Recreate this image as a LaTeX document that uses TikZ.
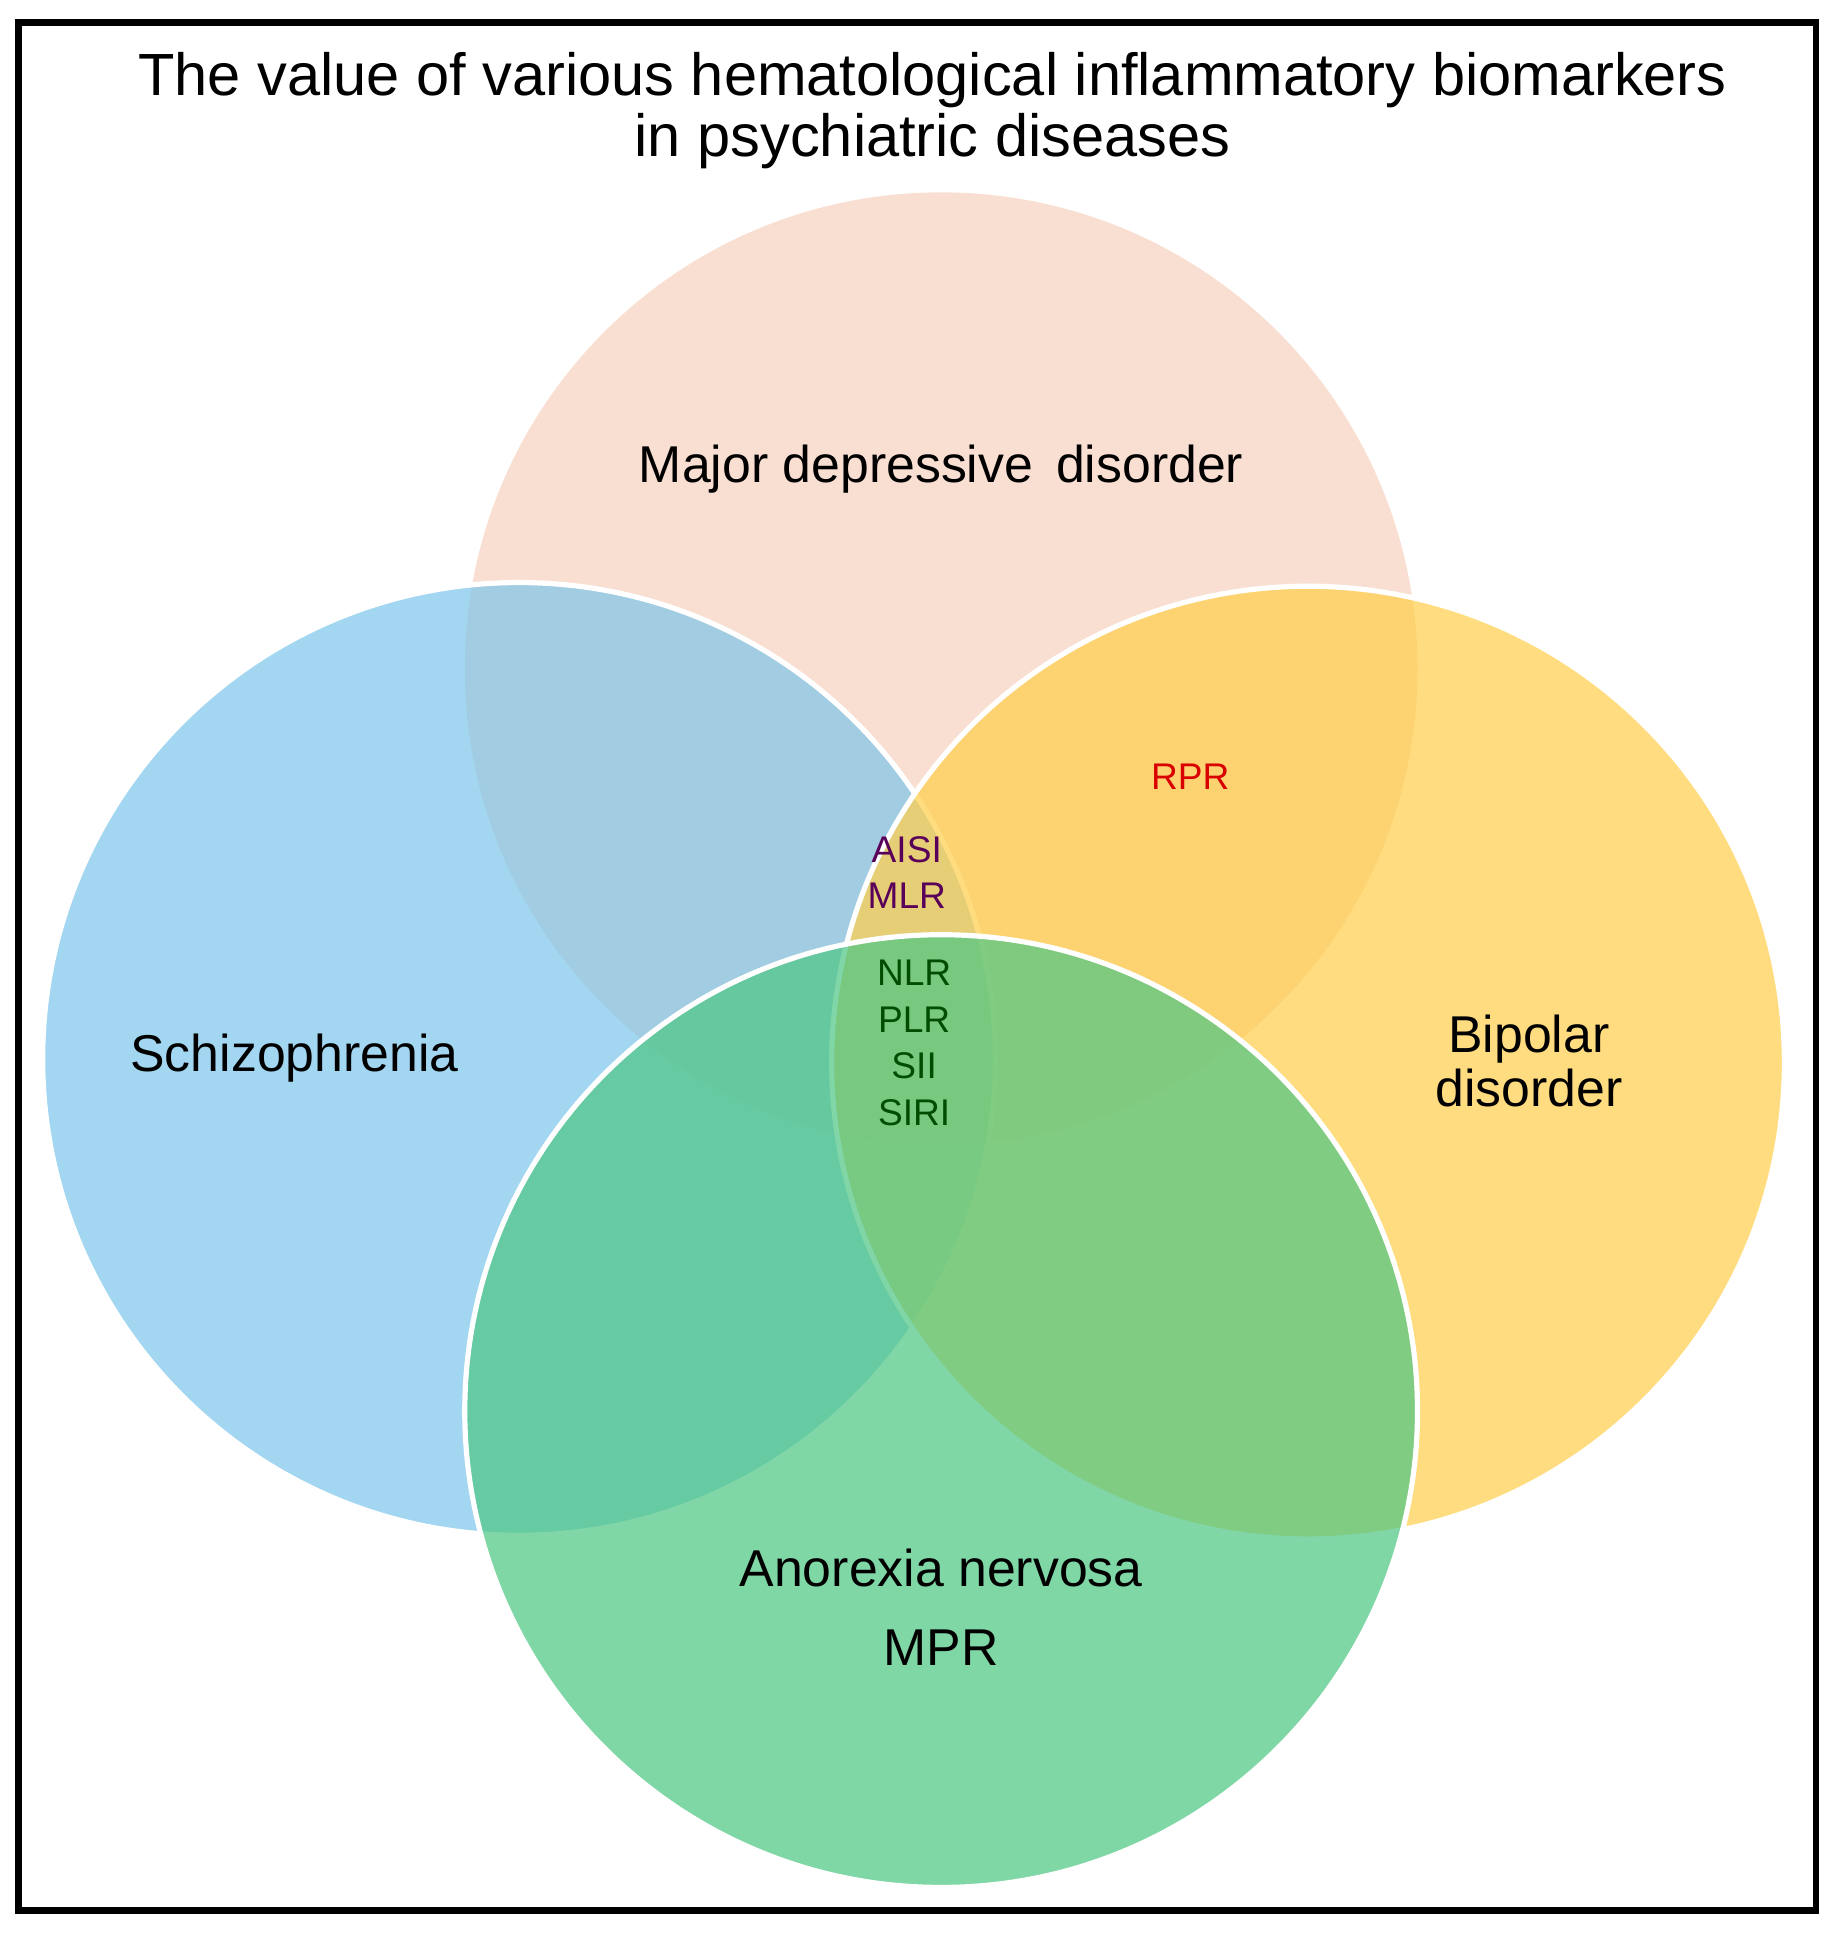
\documentclass[tikz,border=0pt]{standalone}
\usepackage{fontspec}
\setmainfont{Liberation Sans}
\begin{document}
\begin{tikzpicture}[x=0.01cm,y=-0.01cm,
  circ/.style={circle,minimum size=7.76cm,inner sep=0pt,fill opacity=0.72,text opacity=1},
  big/.style={font=\fontsize{13.8}{16}\selectfont},
  lab/.style={font=\fontsize{12}{14}\selectfont,align=center},
  sm/.style={font=\fontsize{8.6}{10.6}\selectfont,align=center}]
\useasboundingbox (0,0) rectangle (1500,1577);
\definecolor{cpeach}{HTML}{F7D3C0}
\definecolor{cblue}{HTML}{7FC6EA}
\definecolor{cyel}{HTML}{FFCF4D}
\definecolor{cgreen}{HTML}{4FC784}
\node[circ,fill=cpeach] (mdd) at (767,545) {};
\node[circ,fill=cblue,draw=white,line width=1.2pt,draw opacity=1] (sch) at (423,863) {};
\node[circ,fill=cyel,draw=white,line width=1.2pt,draw opacity=1] (bip) at (1066,866) {};
\node[circ,fill=cgreen,draw=white,line width=1.2pt,draw opacity=1] (ano) at (767,1150) {};
\draw[line width=1.6pt] (15,18) rectangle (1480,1557);
\node[big,align=center] (title) at (760,90) {The value of various hematological inflammatory biomarkers\\[-2pt]in psychiatric diseases};
\node[lab] (tmdd) at (767,382) {Major depressive\, disorder};
\node[lab] (tsch) at (240,862) {Schizophrenia};
\node[lab,font=\fontsize{12}{12.5}\selectfont] (tbip) at (1246,865) {Bipolar\\disorder};
\node[lab] (tano) at (767,1278) {Anorexia nervosa};
\node[lab] (tmpr) at (767,1343) {MPR};
\node[sm,text=red!85!black] (rpr) at (970,633) {RPR};
\node[sm,text=violet!70!black] (aisi) at (739,711) {AISI\\MLR};
\node[sm,text=green!30!black,font=\fontsize{8.6}{10.8}\selectfont] (nlr) at (745,850) {NLR\\PLR\\SII\\SIRI};
\end{tikzpicture}
\end{document}
